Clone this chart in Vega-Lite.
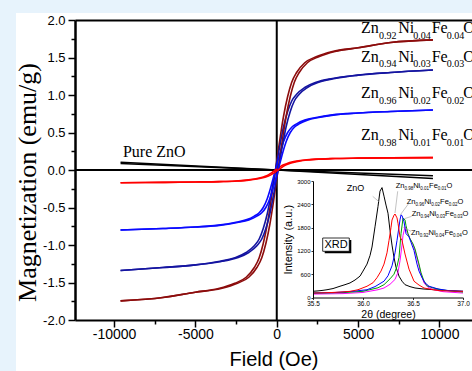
{
  "$schema": "https://vega.github.io/schema/vega-lite/v6.json",
  "width": 397,
  "height": 300,
  "autosize": {"type": "none"},
  "padding": {"left": 75, "top": 20, "right": 0, "bottom": 51},
  "background": "#e7f3fc",
  "config": {
    "view": {"stroke": null},
    "font": "Liberation Sans",
    "axis": {"grid": false, "labelColor": "black", "titleColor": "black", "tickColor": "black", "domainColor": "black", "titleFontWeight": "normal", "labelFont": "Liberation Sans", "titleFont": "Liberation Sans"}
  },
  "datasets": {
    "mh": [
      {"s":"x04","hd":-9600,"ha":-9600,"m":-1.745},{"s":"x04","hd":-7000,"ha":-7000,"m":-1.70},{"s":"x04","hd":-5000,"ha":-5000,"m":-1.63},{"s":"x04","hd":-3580,"ha":-3420,"m":-1.58},{"s":"x04","hd":-2580,"ha":-2420,"m":-1.51},{"s":"x04","hd":-1880,"ha":-1720,"m":-1.43},{"s":"x04","hd":-1380,"ha":-1220,"m":-1.30},{"s":"x04","hd":-1080,"ha":-920,"m":-1.17},{"s":"x04","hd":-830,"ha":-670,"m":-0.98},{"s":"x04","hd":-580,"ha":-420,"m":-0.72},{"s":"x04","hd":-380,"ha":-220,"m":-0.45},{"s":"x04","hd":-230,"ha":-70,"m":-0.225},{"s":"x04","hd":-80,"ha":80,"m":0},{"s":"x04","hd":70,"ha":230,"m":0.225},{"s":"x04","hd":220,"ha":380,"m":0.45},{"s":"x04","hd":420,"ha":580,"m":0.72},{"s":"x04","hd":670,"ha":830,"m":0.98},{"s":"x04","hd":920,"ha":1080,"m":1.17},{"s":"x04","hd":1220,"ha":1380,"m":1.30},{"s":"x04","hd":1720,"ha":1880,"m":1.43},{"s":"x04","hd":2420,"ha":2580,"m":1.51},{"s":"x04","hd":3420,"ha":3580,"m":1.58},{"s":"x04","hd":5000,"ha":5000,"m":1.63},{"s":"x04","hd":7000,"ha":7000,"m":1.70},{"s":"x04","hd":9600,"ha":9600,"m":1.735},
      {"s":"x03","hd":-9600,"ha":-9600,"m":-1.34},{"s":"x03","hd":-7000,"ha":-7000,"m":-1.30},{"s":"x03","hd":-5000,"ha":-5000,"m":-1.265},{"s":"x03","hd":-3580,"ha":-3420,"m":-1.22},{"s":"x03","hd":-2580,"ha":-2420,"m":-1.17},{"s":"x03","hd":-1880,"ha":-1720,"m":-1.10},{"s":"x03","hd":-1380,"ha":-1220,"m":-1.01},{"s":"x03","hd":-1080,"ha":-920,"m":-0.92},{"s":"x03","hd":-830,"ha":-670,"m":-0.78},{"s":"x03","hd":-580,"ha":-420,"m":-0.58},{"s":"x03","hd":-380,"ha":-220,"m":-0.36},{"s":"x03","hd":-230,"ha":-70,"m":-0.18},{"s":"x03","hd":-80,"ha":80,"m":0},{"s":"x03","hd":70,"ha":230,"m":0.18},{"s":"x03","hd":220,"ha":380,"m":0.36},{"s":"x03","hd":420,"ha":580,"m":0.58},{"s":"x03","hd":670,"ha":830,"m":0.78},{"s":"x03","hd":920,"ha":1080,"m":0.92},{"s":"x03","hd":1220,"ha":1380,"m":1.01},{"s":"x03","hd":1720,"ha":1880,"m":1.10},{"s":"x03","hd":2420,"ha":2580,"m":1.17},{"s":"x03","hd":3420,"ha":3580,"m":1.22},{"s":"x03","hd":5000,"ha":5000,"m":1.265},{"s":"x03","hd":7000,"ha":7000,"m":1.30},{"s":"x03","hd":9600,"ha":9600,"m":1.333},
      {"s":"x02","hd":-9600,"ha":-9600,"m":-0.80},{"s":"x02","hd":-7000,"ha":-7000,"m":-0.78},{"s":"x02","hd":-5000,"ha":-5000,"m":-0.76},{"s":"x02","hd":-3580,"ha":-3420,"m":-0.735},{"s":"x02","hd":-2580,"ha":-2420,"m":-0.70},{"s":"x02","hd":-1880,"ha":-1720,"m":-0.665},{"s":"x02","hd":-1380,"ha":-1220,"m":-0.615},{"s":"x02","hd":-1080,"ha":-920,"m":-0.57},{"s":"x02","hd":-830,"ha":-670,"m":-0.50},{"s":"x02","hd":-580,"ha":-420,"m":-0.38},{"s":"x02","hd":-380,"ha":-220,"m":-0.24},{"s":"x02","hd":-230,"ha":-70,"m":-0.12},{"s":"x02","hd":-80,"ha":80,"m":0},{"s":"x02","hd":70,"ha":230,"m":0.12},{"s":"x02","hd":220,"ha":380,"m":0.24},{"s":"x02","hd":420,"ha":580,"m":0.38},{"s":"x02","hd":670,"ha":830,"m":0.50},{"s":"x02","hd":920,"ha":1080,"m":0.57},{"s":"x02","hd":1220,"ha":1380,"m":0.615},{"s":"x02","hd":1720,"ha":1880,"m":0.665},{"s":"x02","hd":2420,"ha":2580,"m":0.70},{"s":"x02","hd":3420,"ha":3580,"m":0.735},{"s":"x02","hd":5000,"ha":5000,"m":0.76},{"s":"x02","hd":7000,"ha":7000,"m":0.78},{"s":"x02","hd":9600,"ha":9600,"m":0.80},
      {"s":"x01","hd":-9600,"ha":-9600,"m":-0.17},{"s":"x01","hd":-7000,"ha":-7000,"m":-0.165},{"s":"x01","hd":-5000,"ha":-5000,"m":-0.16},{"s":"x01","hd":-3580,"ha":-3420,"m":-0.155},{"s":"x01","hd":-2580,"ha":-2420,"m":-0.147},{"s":"x01","hd":-1880,"ha":-1720,"m":-0.135},{"s":"x01","hd":-1380,"ha":-1220,"m":-0.12},{"s":"x01","hd":-1080,"ha":-920,"m":-0.107},{"s":"x01","hd":-830,"ha":-670,"m":-0.092},{"s":"x01","hd":-580,"ha":-420,"m":-0.072},{"s":"x01","hd":-380,"ha":-220,"m":-0.046},{"s":"x01","hd":-230,"ha":-70,"m":-0.023},{"s":"x01","hd":-80,"ha":80,"m":0},{"s":"x01","hd":70,"ha":230,"m":0.022},{"s":"x01","hd":220,"ha":380,"m":0.045},{"s":"x01","hd":420,"ha":580,"m":0.07},{"s":"x01","hd":670,"ha":830,"m":0.09},{"s":"x01","hd":920,"ha":1080,"m":0.105},{"s":"x01","hd":1220,"ha":1380,"m":0.118},{"s":"x01","hd":1720,"ha":1880,"m":0.133},{"s":"x01","hd":2420,"ha":2580,"m":0.145},{"s":"x01","hd":3420,"ha":3580,"m":0.153},{"s":"x01","hd":5000,"ha":5000,"m":0.158},{"s":"x01","hd":7000,"ha":7000,"m":0.162},{"s":"x01","hd":9600,"ha":9600,"m":0.165}
    ],
    "zno": [
      {"b":"A","h":-9600,"m":0.103},{"b":"A","h":0,"m":0},{"b":"A","h":9600,"m":-0.113},
      {"b":"B","h":-9600,"m":0.087},{"b":"B","h":0,"m":0},{"b":"B","h":9600,"m":-0.077}
    ],
    "mlab": [
      {"t":"Pure ZnO","h":-9453,"m":0.173,"k":"main"},
      {"t":"Zn","h":5175,"m":1.823,"k":"main"},{"t":"0.92","h":6281,"m":1.748,"k":"sub"},{"t":"Ni","h":7468,"m":1.823,"k":"main"},{"t":"0.04","h":8390,"m":1.748,"k":"sub"},{"t":"Fe","h":9521,"m":1.823,"k":"main"},{"t":"0.04","h":10443,"m":1.748,"k":"sub"},{"t":"O","h":11463,"m":1.823,"k":"main"},
      {"t":"Zn","h":5175,"m":1.444,"k":"main"},{"t":"0.94","h":6281,"m":1.369,"k":"sub"},{"t":"Ni","h":7468,"m":1.444,"k":"main"},{"t":"0.03","h":8390,"m":1.369,"k":"sub"},{"t":"Fe","h":9521,"m":1.444,"k":"main"},{"t":"0.03","h":10443,"m":1.369,"k":"sub"},{"t":"O","h":11463,"m":1.444,"k":"main"},
      {"t":"Zn","h":5175,"m":0.96,"k":"main"},{"t":"0.96","h":6281,"m":0.885,"k":"sub"},{"t":"Ni","h":7468,"m":0.96,"k":"main"},{"t":"0.02","h":8390,"m":0.885,"k":"sub"},{"t":"Fe","h":9521,"m":0.96,"k":"main"},{"t":"0.02","h":10443,"m":0.885,"k":"sub"},{"t":"O","h":11463,"m":0.96,"k":"main"},
      {"t":"Zn","h":5175,"m":0.40,"k":"main"},{"t":"0.98","h":6281,"m":0.325,"k":"sub"},{"t":"Ni","h":7468,"m":0.40,"k":"main"},{"t":"0.01","h":8390,"m":0.325,"k":"sub"},{"t":"Fe","h":9521,"m":0.40,"k":"main"},{"t":"0.01","h":10443,"m":0.325,"k":"sub"},{"t":"O","h":11463,"m":0.40,"k":"main"}
    ],
    "xrd": [
      {"s":"zno","t":35.50,"i":160},{"s":"zno","t":35.55,"i":170},{"s":"zno","t":35.60,"i":185},{"s":"zno","t":35.64,"i":200},{"s":"zno","t":35.70,"i":230},{"s":"zno","t":35.77,"i":290},{"s":"zno","t":35.82,"i":330},{"s":"zno","t":35.87,"i":375},{"s":"zno","t":35.92,"i":450},{"s":"zno","t":35.97,"i":550},{"s":"zno","t":36.00,"i":680},{"s":"zno","t":36.04,"i":860},{"s":"zno","t":36.07,"i":1080},{"s":"zno","t":36.09,"i":1300},{"s":"zno","t":36.12,"i":1820},{"s":"zno","t":36.15,"i":2345},{"s":"zno","t":36.17,"i":2740},{"s":"zno","t":36.19,"i":2830},{"s":"zno","t":36.21,"i":2610},{"s":"zno","t":36.23,"i":2380},{"s":"zno","t":36.25,"i":2170},{"s":"zno","t":36.27,"i":1730},{"s":"zno","t":36.29,"i":1350},{"s":"zno","t":36.31,"i":1030},{"s":"zno","t":36.33,"i":780},{"s":"zno","t":36.36,"i":550},{"s":"zno","t":36.39,"i":420},{"s":"zno","t":36.42,"i":330},{"s":"zno","t":36.47,"i":280},{"s":"zno","t":36.52,"i":245},{"s":"zno","t":36.60,"i":220},{"s":"zno","t":36.71,"i":200},{"s":"zno","t":36.80,"i":185},{"s":"zno","t":36.87,"i":175},{"s":"zno","t":36.95,"i":165},{"s":"zno","t":37.00,"i":160},
      {"s":"x04","t":35.50,"i":88},{"s":"x04","t":35.80,"i":100},{"s":"x04","t":36.00,"i":130},{"s":"x04","t":36.15,"i":200},{"s":"x04","t":36.21,"i":245},{"s":"x04","t":36.27,"i":340},{"s":"x04","t":36.32,"i":465},{"s":"x04","t":36.35,"i":650},{"s":"x04","t":36.37,"i":945},{"s":"x04","t":36.39,"i":1350},{"s":"x04","t":36.40,"i":1600},{"s":"x04","t":36.42,"i":1820},{"s":"x04","t":36.44,"i":1690},{"s":"x04","t":36.47,"i":1515},{"s":"x04","t":36.50,"i":1360},{"s":"x04","t":36.52,"i":1210},{"s":"x04","t":36.56,"i":815},{"s":"x04","t":36.58,"i":600},{"s":"x04","t":36.61,"i":375},{"s":"x04","t":36.65,"i":260},{"s":"x04","t":36.71,"i":200},{"s":"x04","t":36.80,"i":150},{"s":"x04","t":37.00,"i":115},
      {"s":"x03","t":35.50,"i":115},{"s":"x03","t":35.80,"i":125},{"s":"x03","t":36.00,"i":160},{"s":"x03","t":36.15,"i":250},{"s":"x03","t":36.21,"i":330},{"s":"x03","t":36.27,"i":480},{"s":"x03","t":36.31,"i":600},{"s":"x03","t":36.34,"i":800},{"s":"x03","t":36.36,"i":1030},{"s":"x03","t":36.38,"i":1645},{"s":"x03","t":36.40,"i":2040},{"s":"x03","t":36.42,"i":2000},{"s":"x03","t":36.43,"i":1850},{"s":"x03","t":36.45,"i":1645},{"s":"x03","t":36.47,"i":1515},{"s":"x03","t":36.50,"i":1380},{"s":"x03","t":36.52,"i":1250},{"s":"x03","t":36.56,"i":860},{"s":"x03","t":36.58,"i":640},{"s":"x03","t":36.61,"i":420},{"s":"x03","t":36.64,"i":300},{"s":"x03","t":36.70,"i":245},{"s":"x03","t":36.80,"i":190},{"s":"x03","t":37.00,"i":140},
      {"s":"x02","t":35.50,"i":115},{"s":"x02","t":35.70,"i":125},{"s":"x02","t":35.90,"i":160},{"s":"x02","t":36.04,"i":200},{"s":"x02","t":36.12,"i":280},{"s":"x02","t":36.21,"i":420},{"s":"x02","t":36.25,"i":560},{"s":"x02","t":36.29,"i":815},{"s":"x02","t":36.32,"i":1150},{"s":"x02","t":36.34,"i":1470},{"s":"x02","t":36.37,"i":2000},{"s":"x02","t":36.38,"i":2125},{"s":"x02","t":36.39,"i":2110},{"s":"x02","t":36.41,"i":1950},{"s":"x02","t":36.43,"i":1645},{"s":"x02","t":36.46,"i":1560},{"s":"x02","t":36.48,"i":1420},{"s":"x02","t":36.51,"i":1210},{"s":"x02","t":36.54,"i":860},{"s":"x02","t":36.56,"i":680},{"s":"x02","t":36.59,"i":510},{"s":"x02","t":36.62,"i":380},{"s":"x02","t":36.66,"i":290},{"s":"x02","t":36.75,"i":220},{"s":"x02","t":36.85,"i":180},{"s":"x02","t":37.00,"i":160},
      {"s":"x01","t":35.50,"i":115},{"s":"x01","t":35.60,"i":120},{"s":"x01","t":35.70,"i":130},{"s":"x01","t":35.80,"i":145},{"s":"x01","t":35.87,"i":158},{"s":"x01","t":35.95,"i":200},{"s":"x01","t":36.04,"i":290},{"s":"x01","t":36.10,"i":380},{"s":"x01","t":36.14,"i":510},{"s":"x01","t":36.18,"i":680},{"s":"x01","t":36.21,"i":860},{"s":"x01","t":36.24,"i":1150},{"s":"x01","t":36.26,"i":1470},{"s":"x01","t":36.28,"i":1800},{"s":"x01","t":36.29,"i":1995},{"s":"x01","t":36.31,"i":2120},{"s":"x01","t":36.32,"i":2150},{"s":"x01","t":36.34,"i":2050},{"s":"x01","t":36.35,"i":1910},{"s":"x01","t":36.37,"i":1560},{"s":"x01","t":36.39,"i":1470},{"s":"x01","t":36.42,"i":1120},{"s":"x01","t":36.46,"i":730},{"s":"x01","t":36.51,"i":420},{"s":"x01","t":36.56,"i":320},{"s":"x01","t":36.61,"i":245},{"s":"x01","t":36.70,"i":200},{"s":"x01","t":36.77,"i":175},{"s":"x01","t":36.90,"i":165},{"s":"x01","t":37.00,"i":158}
    ],
    "xlab": [
      {"t":"ZnO","x":35.837,"y":2750,"k":"big"},
      {"t":"Zn","x":36.327,"y":2820,"k":"main"},{"t":"0.98","x":36.415,"y":2769,"k":"sub"},{"t":"Ni","x":36.502,"y":2820,"k":"main"},{"t":"0.01","x":36.573,"y":2769,"k":"sub"},{"t":"Fe","x":36.661,"y":2820,"k":"main"},{"t":"0.01","x":36.748,"y":2769,"k":"sub"},{"t":"O","x":36.836,"y":2820,"k":"main"},
      {"t":"Zn","x":36.437,"y":2408,"k":"main"},{"t":"0.96","x":36.525,"y":2357,"k":"sub"},{"t":"Ni","x":36.612,"y":2408,"k":"main"},{"t":"0.02","x":36.683,"y":2357,"k":"sub"},{"t":"Fe","x":36.771,"y":2408,"k":"main"},{"t":"0.02","x":36.858,"y":2357,"k":"sub"},{"t":"O","x":36.946,"y":2408,"k":"main"},
      {"t":"Zn","x":36.487,"y":2091,"k":"main"},{"t":"0.94","x":36.575,"y":2040,"k":"sub"},{"t":"Ni","x":36.662,"y":2091,"k":"main"},{"t":"0.03","x":36.733,"y":2040,"k":"sub"},{"t":"Fe","x":36.821,"y":2091,"k":"main"},{"t":"0.03","x":36.908,"y":2040,"k":"sub"},{"t":"O","x":36.996,"y":2091,"k":"main"},
      {"t":"Zn","x":36.48,"y":1617,"k":"main"},{"t":"0.92","x":36.568,"y":1566,"k":"sub"},{"t":"Ni","x":36.655,"y":1617,"k":"main"},{"t":"0.04","x":36.726,"y":1566,"k":"sub"},{"t":"Fe","x":36.814,"y":1617,"k":"main"},{"t":"0.04","x":36.901,"y":1566,"k":"sub"},{"t":"O","x":36.989,"y":1617,"k":"main"}
    ],
    "xlead": [
      {"t1":36.097,"i1":2606,"t2":36.163,"i2":2459},
      {"t1":36.347,"i1":2735,"t2":36.32,"i2":2176},
      {"t1":36.453,"i1":2408,"t2":36.37,"i2":2117},
      {"t1":36.487,"i1":2091,"t2":36.413,"i2":2029},
      {"t1":36.48,"i1":1705,"t2":36.403,"i2":1808}
    ]
  },
  "layer": [
    {
      "layer": [
        {
          "data": {"values": [{}]},
          "mark": {"type": "rect", "fill": "white", "clip": false},
          "encoding": {
            "x": {"datum": -16026, "type": "quantitative", "scale": {"domain": [-12400, 12000], "nice": false, "zero": false}, "axis": null},
            "x2": {"datum": 12000},
            "y": {"datum": 2.093, "type": "quantitative", "scale": {"domain": [-2, 2], "nice": false}, "axis": null},
            "y2": {"datum": -2.68}
          }
        },
        {
          "data": {"values": [{}]},
          "mark": {"type": "rule", "color": "black", "strokeWidth": 2},
          "encoding": {
            "x": {"datum": 0, "type": "quantitative", "scale": {"domain": [-12400, 12000], "nice": false, "zero": false},
              "axis": {"zindex": 1, "orient": "bottom", "values": [-7500, -2500, 2500, 7500], "labels": false, "domain": false, "tickSize": 4, "tickWidth": 1.5, "title": null}}
          }
        },
        {
          "data": {"values": [{}]},
          "mark": {"type": "rule", "color": "black", "strokeWidth": 2},
          "encoding": {
            "y": {"datum": 0, "type": "quantitative", "scale": {"domain": [-2, 2], "nice": false},
              "axis": {"zindex": 1, "orient": "left", "values": [-1.75, -1.25, -0.75, -0.25, 0.25, 0.75, 1.25, 1.75], "labels": false, "domain": false, "tickSize": 4, "tickWidth": 1.5, "title": null}}
          }
        },
        {
          "data": {"name": "zno"},
          "mark": {"type": "line", "color": "black", "strokeWidth": 1.5},
          "encoding": {
            "x": {"field": "h", "type": "quantitative", "scale": {"domain": [-12400, 12000], "nice": false, "zero": false},
              "axis": {"zindex": 1, "orient": "bottom", "values": [-10000, -5000, 0, 5000, 10000], "labelExpr": "replace(format(datum.value, 'd'), '−', '-')", "labelFontSize": 14, "labelPadding": 0, "tickSize": 7, "tickWidth": 1.5, "domainWidth": 2, "labelFlush": false, "labelOverlap": false, "title": "Field (Oe)", "titleFontSize": 20, "titlePadding": 8}},
            "y": {"field": "m", "type": "quantitative", "scale": {"domain": [-2, 2], "nice": false},
              "axis": {"zindex": 1, "orient": "left", "values": [-2, -1.5, -1, -0.5, 0, 0.5, 1, 1.5, 2], "labelExpr": "replace(format(datum.value, '.1f'), '−', '-')", "labelFontSize": 13, "labelPadding": 3, "tickSize": 7, "tickWidth": 1.5, "domainWidth": 2.5, "labelFlush": false, "labelOverlap": false, "title": "Magnetization (emu/g)", "titleFont": "Liberation Serif", "titleFontSize": 26, "titlePadding": 2, "titleY": 162}},
            "detail": {"field": "b", "type": "nominal"}
          }
        },
        {
          "data": {"name": "mh"},
          "mark": {"type": "line", "strokeWidth": 1.6, "interpolate": "monotone"},
          "encoding": {
            "x": {"field": "hd", "type": "quantitative", "scale": {"domain": [-12400, 12000], "nice": false, "zero": false}, "axis": null},
            "y": {"field": "m", "type": "quantitative", "scale": {"domain": [-2, 2], "nice": false}, "axis": null},
            "color": {"field": "s", "type": "nominal", "scale": {"domain": ["x01", "x02", "x03", "x04"], "range": ["#ff0000", "#0a0aff", "#1414a0", "#8c0c0c"]}, "legend": null}
          }
        },
        {
          "data": {"name": "mh"},
          "mark": {"type": "line", "strokeWidth": 1.6, "interpolate": "monotone"},
          "encoding": {
            "x": {"field": "ha", "type": "quantitative", "scale": {"domain": [-12400, 12000], "nice": false, "zero": false}, "axis": null},
            "y": {"field": "m", "type": "quantitative", "scale": {"domain": [-2, 2], "nice": false}, "axis": null},
            "color": {"field": "s", "type": "nominal", "scale": {"domain": ["x01", "x02", "x03", "x04"], "range": ["#ff0000", "#0a0aff", "#1414a0", "#8c0c0c"]}, "legend": null}
          }
        },
        {
          "data": {"name": "mlab"},
          "mark": {"type": "text", "font": "Liberation Serif", "align": "left", "baseline": "alphabetic", "color": "black"},
          "encoding": {
            "x": {"field": "h", "type": "quantitative", "scale": {"domain": [-12400, 12000], "nice": false, "zero": false},
              "axis": {"zindex": 1, "orient": "top", "ticks": false, "labels": false, "domain": true, "domainWidth": 2, "title": null}},
            "y": {"field": "m", "type": "quantitative", "scale": {"domain": [-2, 2], "nice": false}, "axis": null},
            "text": {"field": "t"},
            "size": {"field": "k", "type": "nominal", "scale": {"type": "ordinal", "domain": ["main", "sub"], "range": [16, 10]}, "legend": null}
          }
        }
      ],
      "resolve": {"axis": {"x": "independent", "y": "independent"}}
    },
    {
      "layer": [
        {
          "data": {"name": "xrd"},
          "mark": {"type": "line", "strokeWidth": 1},
          "encoding": {
            "x": {"field": "t", "type": "quantitative", "scale": {"domain": [35.5, 37.0], "range": [238, 388], "nice": false, "zero": false},
              "axis": {"zindex": 1, "orient": "bottom", "offset": -22.5, "values": [35.5, 36.0, 36.5, 37.0], "format": ".1f", "labelFontSize": 6.5, "labelPadding": 1, "tickSize": 2, "tickWidth": 0.8, "domainWidth": 1, "labelFlush": false, "labelOverlap": false, "title": "2θ (degree)", "titleFontSize": 10.5, "titlePadding": 2}},
            "y": {"field": "i", "type": "quantitative", "scale": {"domain": [0, 3000], "range": [277.5, 161], "nice": false},
              "axis": {"zindex": 1, "orient": "left", "offset": -238, "values": [0, 600, 1200, 1800, 2400, 3000], "format": "d", "labelFontSize": 6, "labelPadding": 1, "tickSize": 2, "tickWidth": 0.8, "domainWidth": 1, "labelFlush": false, "labelOverlap": false, "title": "Intensity (a.u.)", "titleFontSize": 11, "titlePadding": 3}},
            "color": {"field": "s", "type": "nominal", "scale": {"domain": ["zno", "x01", "x02", "x03", "x04"], "range": ["black", "#ff0000", "#0000ff", "#00a000", "#ff00ff"]}, "legend": null}
          }
        },
        {
          "data": {"name": "xlead"},
          "mark": {"type": "rule", "color": "#9a9a9a", "strokeWidth": 0.6},
          "encoding": {
            "x": {"field": "t1", "type": "quantitative", "scale": {"domain": [35.5, 37.0], "range": [238, 388], "nice": false, "zero": false}, "axis": null},
            "y": {"field": "i1", "type": "quantitative", "scale": {"domain": [0, 3000], "range": [277.5, 161], "nice": false}, "axis": null},
            "x2": {"field": "t2"},
            "y2": {"field": "i2"}
          }
        },
        {
          "data": {"name": "xlab"},
          "mark": {"type": "text", "align": "left", "baseline": "alphabetic", "color": "black", "font": "Liberation Sans"},
          "encoding": {
            "x": {"field": "x", "type": "quantitative", "scale": {"domain": [35.5, 37.0], "range": [238, 388], "nice": false, "zero": false}, "axis": null},
            "y": {"field": "y", "type": "quantitative", "scale": {"domain": [0, 3000], "range": [277.5, 161], "nice": false}, "axis": null},
            "text": {"field": "t"},
            "size": {"field": "k", "type": "nominal", "scale": {"type": "ordinal", "domain": ["big", "main", "sub"], "range": [9, 7.5, 4.5]}, "legend": null}
          }
        },
        {
          "data": {"values": [{}]},
          "mark": {"type": "rect", "fill": "black"},
          "encoding": {
            "x": {"datum": 35.617, "type": "quantitative", "scale": {"domain": [35.5, 37.0], "range": [238, 388], "nice": false, "zero": false}, "axis": null},
            "x2": {"datum": 35.883},
            "y": {"datum": 1140, "type": "quantitative", "scale": {"domain": [0, 3000], "range": [277.5, 161], "nice": false}, "axis": null},
            "y2": {"datum": 1482}
          }
        },
        {
          "data": {"values": [{}]},
          "mark": {"type": "rect", "fill": "white", "stroke": "black", "strokeWidth": 0.8},
          "encoding": {
            "x": {"datum": 35.597, "type": "quantitative", "scale": {"domain": [35.5, 37.0], "range": [238, 388], "nice": false, "zero": false}, "axis": null},
            "x2": {"datum": 35.863},
            "y": {"datum": 1190, "type": "quantitative", "scale": {"domain": [0, 3000], "range": [277.5, 161], "nice": false}, "axis": null},
            "y2": {"datum": 1532}
          }
        },
        {
          "data": {"values": [{"t": "XRD"}]},
          "mark": {"type": "text", "align": "center", "baseline": "middle", "fontSize": 11, "color": "black", "font": "Liberation Sans"},
          "encoding": {
            "x": {"datum": 35.73, "type": "quantitative", "scale": {"domain": [35.5, 37.0], "range": [238, 388], "nice": false, "zero": false}, "axis": null},
            "y": {"datum": 1361, "type": "quantitative", "scale": {"domain": [0, 3000], "range": [277.5, 161], "nice": false}, "axis": null},
            "text": {"field": "t"}
          }
        }
      ],
      "resolve": {"axis": {"x": "independent", "y": "independent"}}
    }
  ],
  "resolve": {
    "scale": {"x": "independent", "y": "independent", "color": "independent", "size": "independent"},
    "axis": {"x": "independent", "y": "independent"}
  }
}
